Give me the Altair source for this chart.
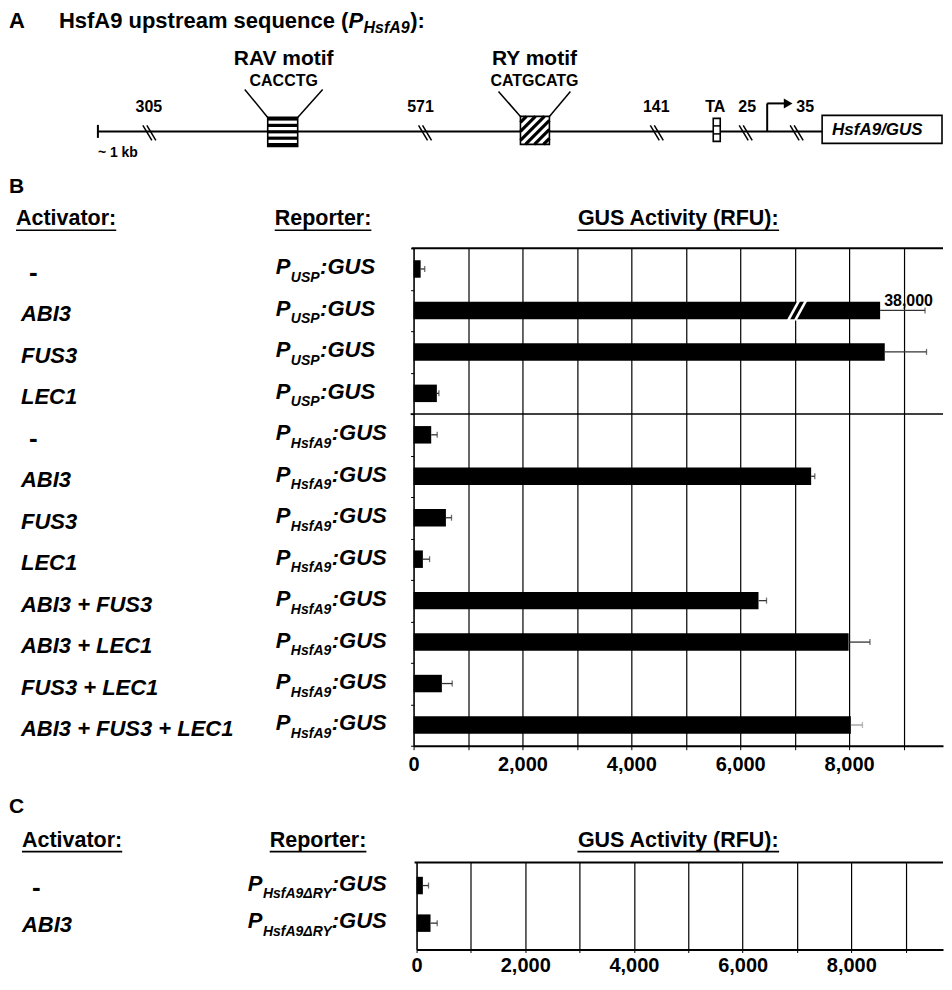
import altair as alt
import pandas as pd

FONT = "Liberation Sans"

# ---------------- data ----------------
activators_B = ["-", "ABI3", "FUS3", "LEC1", "-", "ABI3", "FUS3", "LEC1",
                "ABI3 + FUS3", "ABI3 + LEC1", "FUS3 + LEC1", "ABI3 + FUS3 + LEC1"]
promoters_B = ["USP", "USP", "USP", "USP", "HsfA9", "HsfA9", "HsfA9", "HsfA9",
               "HsfA9", "HsfA9", "HsfA9", "HsfA9"]
gus_B = [130, 8570, 8655, 428, 324, 7303, 594, 171, 6336, 7991, 520, 8032]
err_B = [75, 825, 767, 37, 110, 67, 103, 123, 147, 392, 190, 213]
err_color_B = ["#333333"] * 11 + ["#9a9a9a"]
broken_label = "38,000"      # true value of the ABI3 / P_USP bar (broken bar)
break_value = 7000           # where the break symbol sits on that bar
activators_C = ["-", "ABI3"]
promoters_C = ["HsfA9\u0394RY", "HsfA9\u0394RY"]
gus_C = [116, 257]
err_C = [104, 123]
gus_ticks = [0, 1000, 2000, 3000, 4000, 5000, 6000, 7000, 8000, 9000]
site_labels = ["305", "571", "141", "TA", "25", "35"]

# ---------------- layout ----------------
W = 936
H_A, H_B, H_M, H_C = 240, 498, 117, 87
TOP_A, TOP_B, TOP_M, TOP_C = 8, 248, 746, 863
HFS = 21.5   # header font size
ONE = pd.DataFrame({"k": [0]})

# Liberation Sans Bold advance widths (1/1000 em), used to chain text pieces
AW = {' ': 278, '(': 333, ')': 333, ':': 333, '/': 278, ',': 278, '-': 333, '~': 584, '+': 584,
      'A': 722, 'B': 722, 'C': 722, 'E': 667, 'F': 611, 'G': 778, 'H': 722, 'I': 278, 'L': 611,
      'P': 667, 'R': 722, 'S': 667, 'T': 611, 'U': 722, 'V': 667, 'Y': 667, '\u0394': 612,
      'a': 556, 'b': 611, 'c': 556, 'e': 556, 'f': 333, 'i': 278, 'k': 556, 'm': 889, 'n': 611,
      'o': 611, 'p': 611, 'q': 611, 'r': 389, 's': 556, 't': 333, 'u': 611, 'v': 556, 'y': 556}
for d in "0123456789":
    AW[d] = 556


def tw(s, fs):
    return sum(AW.get(c, 600) for c in s) * fs / 1000.0


def texts(rows, top, italic=False, align="left"):
    df = pd.DataFrame(rows, columns=["t", "x", "y", "fs"])
    df["x"] = df["x"] - 8
    df["y"] = df["y"] - top
    return alt.Chart(df).mark_text(align=align, baseline="middle", font=FONT, fontWeight="bold",
                                   fontStyle="italic" if italic else "normal", color="black").encode(
        x=alt.X("x:Q", scale=None), y=alt.Y("y:Q", scale=None),
        text=alt.Text("t:N"), size=alt.Size("fs:Q", scale=None))


def segs(rows, top, color="black"):
    df = pd.DataFrame(rows, columns=["x", "y", "x2", "y2", "w"])
    df["x"] = df["x"] - 8
    df["x2"] = df["x2"] - 8
    df["y"] = df["y"] - top
    df["y2"] = df["y2"] - top
    return alt.Chart(df).mark_rule(color=color).encode(
        x=alt.X("x:Q", scale=None), y=alt.Y("y:Q", scale=None),
        x2=alt.X2("x2"), y2=alt.Y2("y2"),
        strokeWidth=alt.StrokeWidth("w:Q", scale=None))


def rects(rows, top, outline):
    df = pd.DataFrame(rows, columns=["x", "y", "x2", "y2"])
    df["x"] = df["x"] - 8
    df["x2"] = df["x2"] - 8
    df["y"] = df["y"] - top
    df["y2"] = df["y2"] - top
    if outline:
        m = alt.Chart(df).mark_rect(fillOpacity=0, stroke="black", strokeWidth=1.6)
    else:
        m = alt.Chart(df).mark_rect(fill="white", strokeWidth=0)
    return m.encode(x=alt.X("x:Q", scale=None), y=alt.Y("y:Q", scale=None),
                    x2=alt.X2("x2"), y2=alt.Y2("y2"))


def header(letter, y_letter, y_head, top, act_x, rep_x, gus_cx):
    ul = y_head + 11
    t_left = texts([(letter, 9, y_letter, 21), ("Activator:", act_x, y_head, HFS),
                    ("Reporter:", rep_x, y_head, HFS)], top)
    t_center = texts([("GUS Activity (RFU):", gus_cx, y_head, HFS)], top, align="center")
    gw = tw("GUS Activity (RFU):", HFS)
    lines = segs([(act_x, ul, act_x + tw("Activator:", HFS), ul, 1.6),
                  (rep_x, ul, rep_x + tw("Reporter:", HFS), ul, 1.6),
                  (gus_cx - gw / 2, ul, gus_cx + gw / 2, ul, 1.6)], top)
    return [t_left, t_center, lines]


# ================= panel A : promoter schematic =================
TFS = 22
t1 = "HsfA9 upstream sequence ("
x_t1 = 59
x_P = x_t1 + tw(t1, TFS)
x_sub = x_P + tw("P", TFS) + 0.5
x_end = x_sub + tw("HsfA9", 16) + 0.5

site_x = [149, 421, 657, 716, 748, 806]
break_x = [149, 425, 657, 746, 797]

line_rows = [(98, 131, 823, 131, 2), (98, 124.5, 98, 137.5, 2),
             (268, 117, 245, 89, 1.5), (298, 117, 323, 89, 1.5),
             (521, 116, 499, 91, 1.5), (550, 116, 571, 91, 1.5),
             (768, 131, 768, 103, 2), (768, 103, 785, 103, 2)]
for cx in break_x:
    line_rows += [(cx - 6, 125, cx + 3, 140, 1.5), (cx - 2, 125, cx + 7, 140, 1.5)]

pattern_rows = []
for yy in [118.6, 125.0, 131.4, 137.8, 144.2]:
    pattern_rows.append((268, yy, 298, yy, 3.2))
L_, T_, R_, B_ = 521, 116, 550, 144
w_, h_ = R_ - L_, B_ - T_
for c in range(-22, w_, 9):
    x1, y1 = (L_ + c, B_) if c >= 0 else (L_, B_ + c)
    x2, y2 = (L_ + c + h_, T_) if c + h_ <= w_ else (R_, B_ - (w_ - c))
    pattern_rows.append((x1, y1, x2, y2, 3.2))
pattern_rows += [(714, 125.5, 721, 125.5, 1.5), (714, 133.5, 721, 133.5, 1.5)]

boxes = [(268, 117, 298, 146), (521, 116, 550, 144), (714, 118, 721, 141), (823, 115, 943, 143)]

arrow = alt.Chart(pd.DataFrame({"x": [789 - 8], "y": [103 - TOP_A]})).mark_point(
    shape="triangle-right", filled=True, size=100, color="black", opacity=1).encode(
    x=alt.X("x:Q", scale=None), y=alt.Y("y:Q", scale=None))

chartA = alt.layer(
    segs(line_rows, TOP_A),
    rects(boxes, TOP_A, outline=False),
    segs(pattern_rows, TOP_A),
    rects(boxes, TOP_A, outline=True),
    arrow,
    texts([("A", 9, 21, 22), (t1, x_t1, 21, TFS), ("):", x_end, 21, TFS),
           ("~ 1 kb", 98, 153, 14)], TOP_A),
    texts([("P", x_P, 21, TFS), ("HsfA9", x_sub, 27.5, 16), ("HsfA9/GUS", 833, 130, 17)],
          TOP_A, italic=True),
    texts([("RAV motif", 284, 59, 21), ("CACCTG", 284, 81, 16),
           ("RY motif", 535, 59, 21), ("CATGCATG", 535, 81, 16)]
          + [(s, x, 107, 16) for s, x in zip(site_labels, site_x)], TOP_A, align="center"),
    *header("B", 187, 219, TOP_A, 16, 275, 679),
).properties(width=W, height=H_A)


# ================= bar panels B and C =================
def gus_panel(rows, acts, proms, vals, errs, ecols, xmax, zero_page, ys,
              act_x, dash_x, rep_x, act_dy, rep_dy, sub_drop, band_ticks,
              fs_lab, fs_p, fs_sub, tick_size, lab_pad):
    df = pd.DataFrame({"row": rows, "act": acts, "prom": proms, "gus": vals,
                       "err": errs, "ecol": ecols})
    z = zero_page - 8
    xs = alt.Scale(domain=[0, xmax], range=[z, W], nice=False, zero=False)
    xaxis = alt.Axis(values=gus_ticks, grid=True, gridColor="black", gridWidth=1.2,
                     domainColor="black", domainWidth=2, ticks=True, tickColor="black",
                     tickSize=tick_size, tickWidth=1,
                     labelExpr="datum.value % 2000 === 0 ? format(datum.value, ',') : ''",
                     labelFont=FONT, labelFontWeight="bold", labelFontSize=20,
                     labelColor="black", labelPadding=lab_pad, labelFlush=False,
                     labelOverlap=False, title=None)
    yaxis = alt.Axis(labels=False, title=None, grid=False, domainColor="black",
                     domainWidth=1, ticks=band_ticks, tickBand="extent", tickSize=3,
                     tickColor="black", offset=-z)
    y = alt.Y("row:N", scale=ys, axis=yaxis)
    base = alt.Chart(df)
    bars = base.mark_bar(color="black", size=17.5).encode(
        x=alt.X("gus:Q", scale=xs, axis=xaxis), y=y)
    eb = base.transform_calculate(hi="datum.gus + datum.err")
    err_rule = eb.mark_rule(strokeWidth=1.3).encode(
        x=alt.X("gus:Q", scale=xs, axis=xaxis), x2=alt.X2("hi"), y=y,
        color=alt.Color("ecol:N", scale=None))
    err_cap = eb.mark_tick(thickness=1.3, size=6).encode(
        x=alt.X("hi:Q", scale=xs, axis=xaxis), y=y, color=alt.Color("ecol:N", scale=None))
    top = alt.Chart(ONE).mark_rule(color="black", strokeWidth=2).encode(
        x=alt.value(z - 2), x2=alt.value(W), y=alt.value(0))
    tstyle = dict(align="left", baseline="middle", font=FONT, fontWeight="bold", color="black")
    acts_l = base.transform_filter("datum.act != '-'").mark_text(
        fontStyle="italic", fontSize=fs_lab, dy=act_dy, **tstyle).encode(
        x=alt.value(act_x - 8), y=y, text="act:N")
    dash_l = base.transform_filter("datum.act == '-'").mark_text(
        fontSize=fs_lab + 4, dy=act_dy, **tstyle).encode(
        x=alt.value(dash_x - 8), y=y, text="act:N")
    p_l = base.mark_text(text="P", fontStyle="italic", fontSize=fs_p, dy=rep_dy, **tstyle).encode(
        x=alt.value(rep_x - 8), y=y)
    sx = rep_x + tw("P", fs_p) + 0.5
    sub_l = base.mark_text(fontStyle="italic", fontSize=fs_sub, dy=rep_dy + sub_drop,
                           **tstyle).encode(x=alt.value(sx - 8), y=y, text="prom:N")
    layers = [bars, err_rule, err_cap, top, acts_l, dash_l, p_l, sub_l]
    for p in sorted(set(proms)):
        gx = sx + tw(p, fs_sub) + 0.5
        layers.append(base.transform_filter(alt.datum.prom == p).mark_text(
            text=":GUS", fontStyle="italic", fontSize=fs_p, dy=rep_dy, **tstyle).encode(
            x=alt.value(gx - 8), y=y))
    return layers, xs, xaxis, yaxis, base


rowsB = [f"b{i:02d}" for i in range(len(gus_B))]
ysB = alt.Scale(type="band", domain=rowsB, paddingInner=0, paddingOuter=0)
layersB, xsB, xaxB, yaxB, baseB = gus_panel(
    rowsB, activators_B, promoters_B, gus_B, err_B, err_color_B,
    (W - 406) / 0.0545, 414, ysB, 21, 29, 276, 4, -1.5, 10.5, True, 22, 22, 14, 4, 5)
yB = alt.Y("row:N", scale=ysB, axis=yaxB)
brk = baseB.transform_filter(alt.datum.row == rowsB[1]).transform_calculate(b=str(break_value))
for off in [0, 7]:
    layersB.append(brk.mark_rule(color="white", strokeWidth=2.6, xOffset=-6.5 + off,
                                 x2Offset=4.5 + off, yOffset=10, y2Offset=-10).encode(
        x=alt.X("b:Q", scale=xsB, axis=xaxB), x2=alt.X2("b"), y=yB, y2=alt.Y2("row")))
layersB.append(baseB.transform_filter(alt.datum.row == rowsB[1]).mark_text(
    text=broken_label, align="left", baseline="middle", dx=4, dy=-9.5, font=FONT,
    fontWeight="bold", fontSize=16, color="black").encode(
    x=alt.X("gus:Q", scale=xsB, axis=xaxB), y=yB))
layersB.append(baseB.transform_filter(alt.datum.row == rowsB[4]).mark_rule(
    color="black", strokeWidth=1.5).encode(
    y=alt.Y("row:N", scale=ysB, axis=yaxB, bandPosition=0),
    x=alt.value(414 - 8 - 3), x2=alt.value(W)))
chartB = alt.layer(*layersB).properties(width=W, height=H_B)

chartM = alt.layer(*header("C", 807, 841, TOP_M, 22, 270, 679)).properties(width=W, height=H_M)

rowsC = ["c0", "c1"]
ysC = alt.Scale(type="band", domain=rowsC, paddingInner=0, paddingOuter=0.156, align=0.354)
layersC, xsC, xaxC, yaxC, baseC = gus_panel(
    rowsC, activators_C, promoters_C, gus_C, err_C, ["#333333", "#333333"],
    (W - 409) / 0.0544, 417, ysC, 22, 32, 248, 2, -2, 10.5, False, 22, 22, 14, 3, 3)
chartC = alt.layer(*layersC).properties(width=W, height=H_C)

chart = alt.vconcat(chartA, chartB, chartM, chartC, spacing=0, bounds="flush").properties(
    padding=0).configure_view(stroke=None)
chart.save("out.html", embed_options={"renderer": "svg", "actions": False})
